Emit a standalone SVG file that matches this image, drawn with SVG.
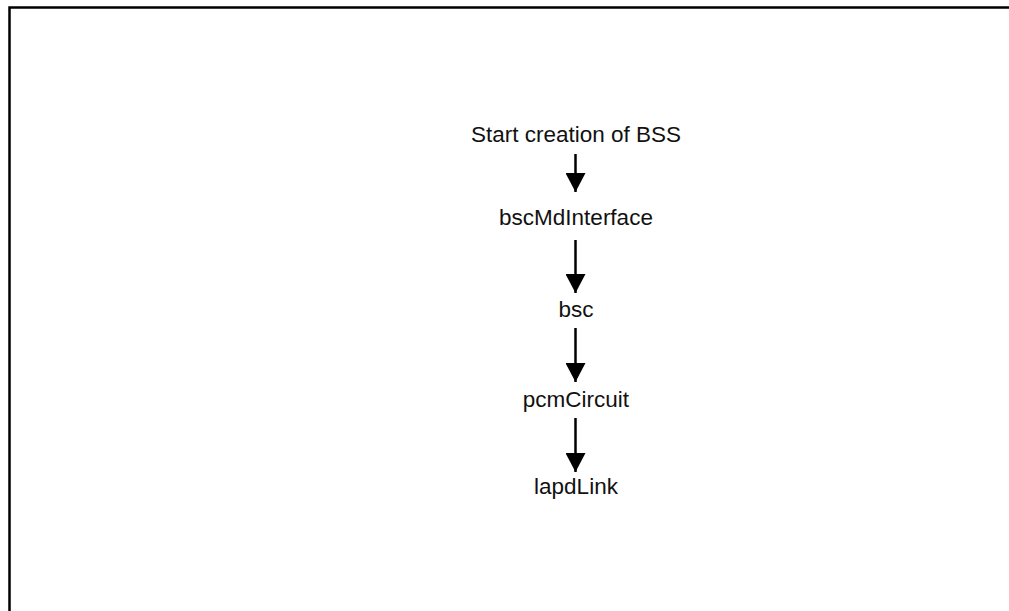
<svg xmlns="http://www.w3.org/2000/svg" width="1009" height="611" viewBox="0 0 1009 611">
  <style>
    .lbl { font-family: "Liberation Sans", Arial, sans-serif; font-size: 22.5px; fill: #111; text-anchor: middle; }
    .conn { stroke: #000; stroke-width: 2.5; fill: none; marker-end: url(#ah); }
    .frame { stroke: #000; stroke-width: 2.5; fill: none; }
  </style>
  <defs>
    <marker id="ah" markerUnits="userSpaceOnUse" markerWidth="20" markerHeight="20" viewBox="0 0 17 18" refX="17" refY="9" orient="auto">
      <path d="M0,0 L17,9 L0,18 Z" fill="#000"/>
    </marker>
  </defs>
  <rect width="1009" height="611" fill="#fff"/>
  <path class="frame" d="M9.5,611 L9.5,7.5 L1009,7.5"/>
  <g id="n1"><text class="lbl" x="576" y="142">Start creation of BSS</text></g>
  <g id="n2"><text class="lbl" x="576" y="225">bscMdInterface</text></g>
  <g id="n3"><text class="lbl" x="576" y="317">bsc</text></g>
  <g id="n4"><text class="lbl" x="576" y="407">pcmCircuit</text></g>
  <g id="n5"><text class="lbl" x="576" y="494">lapdLink</text></g>
  <g id="connectors">
    <line class="conn" x1="575.5" y1="154" x2="575.5" y2="192"/>
    <line class="conn" x1="575.5" y1="240" x2="575.5" y2="293"/>
    <line class="conn" x1="575.5" y1="328" x2="575.5" y2="382"/>
    <line class="conn" x1="575.5" y1="418" x2="575.5" y2="472"/>
  </g>
</svg>
